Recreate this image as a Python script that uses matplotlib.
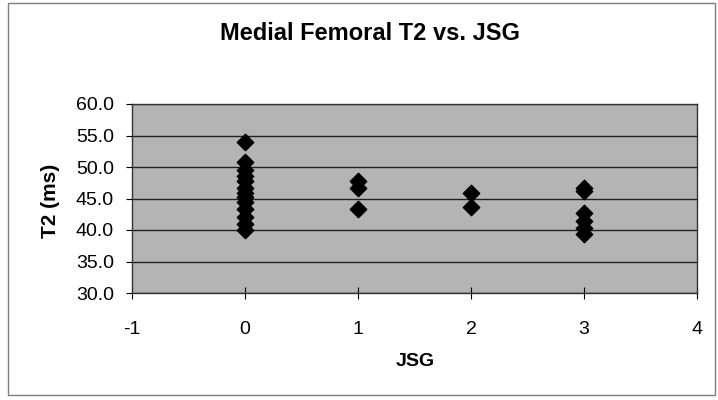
import matplotlib
matplotlib.use("Agg")
import matplotlib.pyplot as plt
from matplotlib.patches import Rectangle

plt.rcParams['font.family'] = ['Liberation Sans', 'DejaVu Sans']
plt.rcParams['axes.unicode_minus'] = False

# JSG grade of each knee and its medial femoral T2 (ms)
jsg = [0] * 13 + [1] * 3 + [2] * 2 + [3] * 6
t2 = [54.0, 50.8, 49.6, 48.6, 47.8, 46.7, 45.9, 45.2, 44.4, 43.4, 42.1, 41.0, 40.0,
      47.8, 46.7, 43.3,
      45.8, 43.6,
      46.7, 46.2, 42.7, 41.4, 40.3, 39.4]

x_ticks = [-1, 0, 1, 2, 3, 4]
y_ticks = [30, 35, 40, 45, 50, 55, 60]

fig = plt.figure(figsize=(7.18, 4.0), dpi=100)
fig.patches.append(Rectangle((0.011, 0.012), 0.985, 0.98, transform=fig.transFigure,
                             fill=False, edgecolor='#7f7f7f', linewidth=1.0))

ax = fig.add_axes([0.1838, 0.2675, 0.787, 0.4725])
ax.set_facecolor('#b4b4b4')
ax.scatter(jsg, t2, marker='D', s=70, color='black', zorder=3)

ax.set_xlim(-1, 4)
ax.set_ylim(30, 60)
ax.set_xticks(x_ticks)
ax.set_yticks(y_ticks)
ax.set_yticklabels(['%.1f' % v for v in y_ticks])
ax.tick_params(labelsize=14, width=0.8)
ax.tick_params(axis='y', direction='out', length=4, pad=9)
ax.tick_params(axis='x', direction='inout', length=8, pad=16)
ax.yaxis.grid(True, color='#222222', linewidth=1.0)
ax.set_axisbelow(True)
for s in ax.spines.values():
    s.set_color('#333333')
    s.set_linewidth(1.0)

fig.text(0.578, 0.097, 'JSG', ha='center', va='center', fontsize=14, fontweight='bold')
fig.text(0.07, 0.497, 'T2 (ms)', ha='center', va='center', rotation=90,
         fontsize=15, fontweight='bold')
fig.text(0.515, 0.9175, 'Medial Femoral T2 vs. JSG', ha='center', va='center',
         fontsize=17, fontweight='bold')

fig.savefig('out.png', dpi=100)
